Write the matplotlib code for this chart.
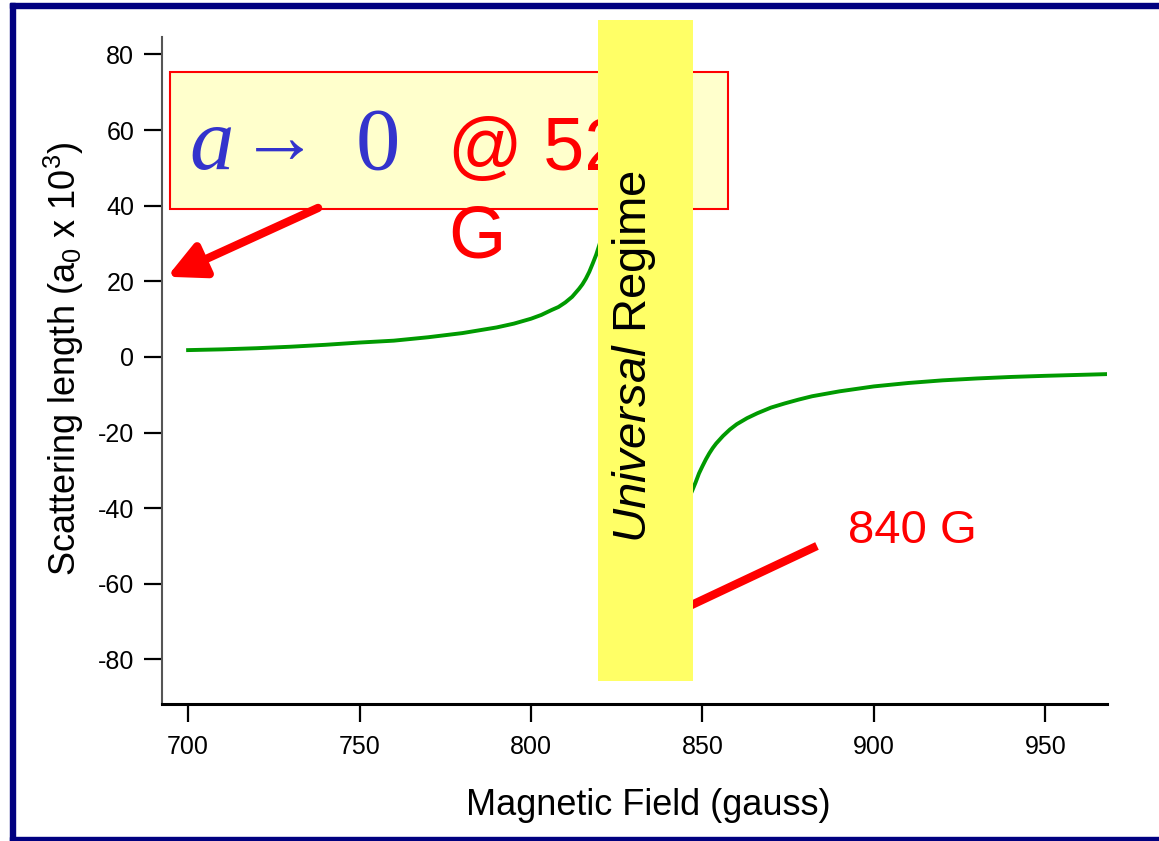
import matplotlib
matplotlib.use("Agg")
import matplotlib.pyplot as plt
from matplotlib.patches import Rectangle

plt.rcParams["font.family"] = ["Liberation Sans", "DejaVu Sans"]
plt.rcParams["axes.unicode_minus"] = False
plt.rcParams["mathtext.fontset"] = "custom"
plt.rcParams["mathtext.rm"] = "Liberation Sans"
plt.rcParams["mathtext.it"] = "Liberation Sans:italic"

# Scattering length (units of 10^3 a0), below and above the resonance
field_low = [700, 710, 720, 730, 740, 750, 760, 770, 780, 790, 795, 800, 803,
             806, 808, 810, 812, 814, 815, 816, 817, 818, 819, 820, 821, 822]
a_low = [1.8, 2.0, 2.3, 2.7, 3.2, 3.8, 4.3, 5.2, 6.3, 7.8, 8.8, 10.1, 11.1,
         12.4, 13.2, 14.4, 15.9, 18.0, 19.2, 20.7, 22.5, 24.7, 27.0, 29.8, 33.0, 37.0]

field_high = [845, 846, 847, 848, 849, 850, 851, 852, 853, 854, 856, 858, 860,
              863, 866, 870, 874, 878, 882, 890, 900, 910, 920, 930, 940, 950,
              960, 968]
a_high = [-40.0, -37.4, -35.4, -33.2, -30.8, -28.9, -27.1, -25.5, -24.1, -22.9,
          -20.9, -19.2, -17.8, -16.2, -14.9, -13.4, -12.3, -11.3, -10.4, -9.1,
          -7.8, -6.9, -6.2, -5.7, -5.3, -5.0, -4.75, -4.55]

x_ticks = [700, 750, 800, 850, 900, 950]
y_ticks = [-80, -60, -40, -20, 0, 20, 40, 60, 80]

fig = plt.figure(figsize=(11.59, 8.41), dpi=100)
ax = fig.add_axes([0.1398, 0.1629, 0.8154, 0.7935])

# Curve
ax.plot(field_low, a_low, color="#009a00", lw=2.8, zorder=2)
ax.plot(field_high, a_high, color="#009a00", lw=2.8, zorder=2)

ax.set_xlim(692.4, 968)
ax.set_ylim(-91.8, 84.7)
ax.set_xticks(x_ticks)
ax.set_yticks(y_ticks)

for side in ["top", "right"]:
    ax.spines[side].set_visible(False)
ax.spines["left"].set_color("#555555")
ax.spines["left"].set_linewidth(1.5)
ax.spines["bottom"].set_linewidth(2.2)

ax.tick_params(axis="both", direction="out", length=13, width=1.6, labelsize=18)
ax.tick_params(axis="y", pad=7)
ax.tick_params(axis="x", pad=9)

# Axis titles
fig.text(648 / 1159, 1 - 815 / 841, "Magnetic Field (gauss)", fontsize=26,
         ha="center", va="baseline")
fig.text(64 / 1159, 1 - 359 / 841,
         r"Scattering length (a$_\mathregular{0}$ x 10$^\mathregular{3}$)",
         fontsize=26, rotation=90, ha="center", va="center")

# Annotation box "a -> 0 @ 527 G"
ax.add_patch(Rectangle((694.8, 39.2), 162.6, 36.2, facecolor="#ffffcc",
                       edgecolor="red", lw=1.5, zorder=3, clip_on=False))
blue = "#3333cc"
serif = ["Liberation Serif", "DejaVu Serif"]
ax.text(700.3, 49.7, "a", fontsize=64, family=serif, style="italic",
        color=blue, ha="left", va="baseline", zorder=4)
ax.text(726.5, 51.3, "\u2192", fontsize=57, family=serif,
        color=blue, ha="center", va="baseline", zorder=4)
ax.text(755.4, 49.7, "0", fontsize=64, family=serif,
        color=blue, ha="center", va="baseline", zorder=4)
ax.text(775.8, 49.5, "@ 527", fontsize=53, color="red", ha="left",
        va="baseline", zorder=4)
ax.text(775.8, 26.2, "G", fontsize=53, color="red", ha="left",
        va="baseline", zorder=4)

# Red arrow to the axis
ax.annotate("", xy=(693.9, 21.2), xytext=(737.9, 39.4),
            arrowprops=dict(arrowstyle="-|>,head_length=1.0,head_width=0.5",
                            lw=6, color="red", shrinkA=0, shrinkB=0,
                            mutation_scale=22),
            annotation_clip=False, zorder=4)

# 840 G pointer
ax.plot([834.7, 883.4], [-70.8, -50.0], color="red", lw=6,
        solid_capstyle="butt", zorder=4)
ax.text(892.4, -49.2, "840 G", fontsize=34, color="red", ha="left",
        va="baseline", zorder=4)

# Universal regime band
ax.add_patch(Rectangle((819.5, -85.7), 27.7, 174.9, facecolor="#ffff66",
                       edgecolor="none", zorder=5, clip_on=False))
ax.text(830.0, 0, r"$\mathit{Universal}$ Regime", fontsize=34, rotation=90,
        ha="center", va="center", zorder=6)

# Slide frame
navy = "#000080"
fig.add_artist(Rectangle((10 / 1159, 1 - 8 / 841), 1, 5 / 841, color=navy,
                         transform=fig.transFigure))
fig.add_artist(Rectangle((10 / 1159, 0), 5 / 1159, 1 - 3 / 841, color=navy,
                         transform=fig.transFigure))
fig.add_artist(Rectangle((10 / 1159, 0), 1, 4 / 841, color=navy,
                         transform=fig.transFigure))

fig.savefig("out.png", dpi=100)
